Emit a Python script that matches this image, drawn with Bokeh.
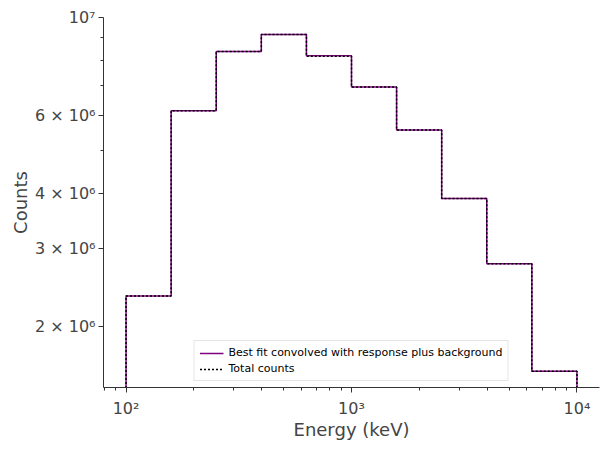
import numpy as np
from bokeh.plotting import figure
from bokeh.models import Range1d, FixedTicker, LogTicker, Legend, LegendItem
from bokeh.embed import file_html
from bokeh.resources import INLINE

# Energy bin edges (keV) and counts per bin
bin_edges = [100, 158.5, 251.2, 398.1, 631.0, 1000, 1584.9, 2511.9, 3981.1, 6309.6, 10000]
model_counts = [2.34e6, 6.15e6, 8.37e6, 9.15e6, 8.19e6, 6.96e6, 5.56e6, 3.89e6, 2.77e6, 1.58e6]
total_counts = [2.34e6, 6.15e6, 8.37e6, 9.15e6, 8.17e6, 6.96e6, 5.56e6, 3.89e6, 2.77e6, 1.58e6]

y_major = [2e6, 3e6, 4e6, 6e6, 1e7]
y_major_labels = ["2 × 10⁶", "3 × 10⁶", "4 × 10⁶", "6 × 10⁶", "10⁷"]
y_minor = [5e6, 7e6, 8e6, 9e6]
x_major_labels = {100: "10²", 1000: "10³", 10000: "10⁴"}

BASE = 1.0  # histogram outline drops to this level (below the visible range)


def step_outline(edges, counts):
    xs = np.repeat(np.asarray(edges, dtype=float), 2)
    ys = np.concatenate([[BASE], np.repeat(np.asarray(counts, dtype=float), 2), [BASE]])
    return xs, ys


TEXT = "#444444"
FONT = "DejaVu Sans"

p = figure(width=608, height=451, x_axis_type="log", y_axis_type="log",
           x_range=Range1d(10 ** 1.9, 10 ** 4.1), y_range=Range1d(1.452e6, 1e7),
           output_backend="svg", toolbar_location=None,
           min_border_left=103, min_border_right=9, min_border_top=17, min_border_bottom=64)
p.outline_line_color = None
p.xgrid.visible = False
p.ygrid.visible = False
p.background_fill_color = "white"
p.border_fill_color = "white"

mx, my = step_outline(bin_edges, model_counts)
tx, ty = step_outline(bin_edges, total_counts)
r_model = p.line(mx, my, line_color="#800080", line_width=1.5)
r_total = p.line(tx, ty, line_color="black", line_width=1.5, line_dash="2 2")

# axes styling
for ax in (p.xaxis[0], p.yaxis[0]):
    ax.axis_line_color = "#333333"
    ax.axis_line_width = 1
    ax.major_tick_line_color = "#333333"
    ax.minor_tick_line_color = "#333333"
    ax.major_tick_in = 0
    ax.major_tick_out = 5
    ax.minor_tick_in = 0
    ax.minor_tick_out = 3
    ax.major_label_text_font = FONT
    ax.major_label_text_font_size = "16px"
    ax.major_label_text_color = TEXT
    ax.axis_label_text_font = FONT
    ax.axis_label_text_font_size = "18px"
    ax.axis_label_text_color = TEXT
    ax.axis_label_text_font_style = "normal"

p.xaxis.ticker = LogTicker(num_minor_ticks=10)
p.xaxis.major_label_overrides = x_major_labels
p.xaxis.axis_label = "Energy (keV)"
p.xaxis.major_label_standoff = 6
p.xaxis.axis_label_standoff = -2

p.yaxis.ticker = FixedTicker(ticks=y_major, minor_ticks=y_minor)
p.yaxis.major_label_overrides = dict(zip(y_major, y_major_labels))
p.yaxis.axis_label = "Counts"
p.yaxis.major_label_standoff = 3
p.yaxis.axis_label_standoff = 1
p.yaxis.major_label_orientation = "horizontal"

legend = Legend(items=[
    LegendItem(label="Best fit convolved with response plus background", renderers=[r_model]),
    LegendItem(label="Total counts", renderers=[r_total]),
], location="bottom_center")
legend.label_text_font = FONT
legend.label_text_font_size = "11px"
legend.label_text_color = "black"
legend.label_height = 12
legend.glyph_height = 12
legend.glyph_width = 24
legend.spacing = 3
legend.padding = 5
legend.margin = 6
legend.border_line_color = "#cccccc"
legend.border_line_width = 1
legend.background_fill_alpha = 0.8
p.add_layout(legend)

open("out.html", "w").write(file_html(p, INLINE))
